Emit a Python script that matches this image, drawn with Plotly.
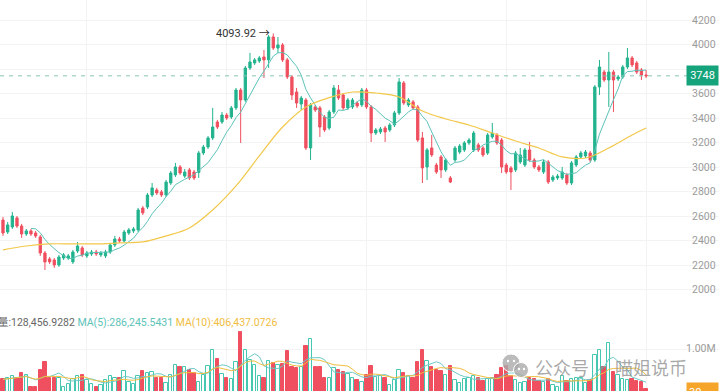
import plotly.graph_objects as go
import pandas as pd

# ---------------- data ----------------
opens = [2571,2473,2514,2588,2522,2457,2482,2465,2433,2302,
         2253,2245,2204,2261,2261,2229,2318,2343,2278,2294,
         2310,2286,2278,2310,2367,2416,2400,2465,2482,2490,
         2669,2677,2775,2816,2800,2775,2873,2939,3004,2930,
         2980,2963,2960,3118,3167,3241,3371,3371,3428,3412,
         3486,3632,3551,3812,3853,3869,3902,3878,4065,3975,
         4000,3878,3739,3616,3518,3551,3159,3494,3486,3412,
         3322,3453,3632,3592,3486,3494,3526,3510,3632,3494,
         3281,3290,3322,3306,3347,3445,3690,3510,3535,3494,
         3241,3004,3159,3020,3086,2980,2914,3061,3126,3143,
         3200,3143,3184,3159,3118,3249,3265,3224,3020,2996,
         2980,3045,3020,3143,3061,3004,2963,3045,2898,2914,
         2914,2939,2873,3020,3086,3094,3118,3061,3657,3779,
         3714,3779,3722,3739,3820,3894,3853,3796,3755]
closes = [2465,2531,2604,2522,2457,2482,2457,2441,2302,2229,
          2229,2204,2269,2286,2278,2310,2359,2286,2302,2310,
          2294,2302,2310,2367,2416,2400,2473,2490,2498,2653,
          2629,2775,2833,2792,2775,2881,2955,3004,2955,2963,
          2914,2914,3118,3167,3241,3330,3330,3428,3404,3486,
          3632,3551,3812,3861,3878,3894,3878,4065,3975,4000,
          3878,3739,3592,3526,3567,3159,3510,3469,3330,3306,
          3453,3649,3567,3486,3551,3551,3502,3632,3494,3281,
          3306,3314,3290,3347,3445,3698,3526,3551,3486,3224,
          2996,3143,3102,2963,2980,3061,2881,3159,3175,3200,
          3224,3281,3143,3102,3265,3281,3200,3004,2963,2963,
          3118,3102,3143,3061,3004,2980,3045,2881,2922,2930,
          2963,2873,3037,3086,3118,3126,3061,3657,3820,3714,
          3779,3714,3739,3820,3894,3837,3779,3755,3748]
highs = [2596,2555,2637,2604,2539,2498,2498,2482,2449,2318,
         2269,2261,2286,2302,2294,2327,2392,2359,2318,2327,
         2327,2318,2327,2384,2441,2433,2490,2506,2514,2669,
         2685,2792,2873,2833,2816,2898,2971,3037,3020,2988,
         2996,2980,3135,3184,3257,3486,3388,3453,3445,3502,
         3649,3649,3828,3935,3894,3910,3959,4081,4093.92,4065,
         4016,3894,3755,3649,3584,3567,3526,3510,3502,3428,
         3469,3673,3673,3608,3567,3567,3543,3649,3649,3510,
         3322,3330,3339,3363,3461,3730,3706,3567,3551,3510,
         3290,3159,3265,3037,3102,3077,2930,3175,3192,3216,
         3241,3298,3200,3175,3281,3363,3281,3241,3037,3012,
         3135,3159,3159,3208,3077,3020,3061,3061,2939,2947,
         3004,2955,3053,3102,3135,3143,3135,3673,3878,3796,
         3943,3796,3755,3837,3975,3910,3869,3812,3796]
lows = [2441,2457,2498,2506,2425,2441,2441,2425,2278,2163,
        2212,2180,2188,2245,2245,2212,2302,2269,2261,2278,
        2278,2269,2261,2294,2351,2384,2384,2449,2465,2473,
        2612,2661,2759,2775,2759,2759,2857,2922,2939,2914,
        2898,2898,2914,3102,3151,3224,3314,3355,3388,3396,
        3469,3200,3535,3796,3837,3853,3730,3812,3959,3935,
        3861,3722,3551,3486,3469,3143,3061,3453,3249,3290,
        3306,3437,3551,3469,3469,3477,3486,3494,3477,3208,
        3265,3273,3208,3290,3330,3428,3510,3494,3469,3208,
        2873,2898,3086,2947,2914,2963,2873,3045,3110,3126,
        3184,3126,3126,3086,3102,3233,3184,2955,2947,2816,
        2963,3028,3004,3045,2988,2963,2947,2865,2881,2898,
        2898,2857,2857,3004,3069,3077,3045,3045,3592,3698,
        3494,3453,3706,3722,3804,3820,3763,3714,3730]
volumes = [340000,360000,410000,380000,490000,430000,180000,170000,540000,720000,
           380000,380000,380000,180000,250000,340000,410000,430000,330000,250000,
           180000,220000,330000,410000,360000,380000,530000,290000,250000,410000,
           530000,490000,510000,380000,380000,270000,430000,650000,620000,600000,
           540000,490000,290000,430000,630000,980000,780000,460000,360000,340000,
           720000,1380000,980000,760000,650000,410000,380000,750000,690000,650000,
           670000,960000,600000,580000,600000,1070000,1210000,600000,600000,360000,
           380000,580000,540000,510000,460000,380000,330000,
           290000,430000,630000,400000,410000,360000,220000,330000,540000,490000,
           410000,380000,720000,990000,750000,620000,540000,530000,430000,630000,
           330000,270000,340000,360000,410000,380000,310000,340000,360000,430000,
           580000,630000,410000,330000,270000,290000,380000,340000,310000,290000,
           340000,220000,180000,410000,310000,340000,360000,380000,270000,330000,
           870000,980000,600000,1140000,510000,430000,340000,330000,340000,310000,
           290000,128457]
# long moving average (yellow line) read at every 5th candle
ma_long_idx = [0,5,10,15,20,25,30,35,40,45,50,55,60,65,70,75,80,85,90,95,
               100,105,110,115,120,125,130,135,138]
ma_long_vals = [2327,2359,2376,2376,2376,2384,2392,2441,2506,2653,2849,3094,3330,3494,
                3570,3616,3608,3575,3461,3396,3347,3281,3216,3159,3086,3077,3159,3265,3322]
price_ticks = [2000,2200,2400,2600,2800,3000,3200,3400,3600,3800,4000,4200]
last_price = 3748
peak_price = 4093.92
peak_index = 58
vol_text = "量:128,456.9282"
vma5_text = "MA(5):286,245.5431"
vma10_text = "MA(10):406,437.0726"

# ---------------- styling ----------------
W, H = 719, 391
GREEN = '#22b38e'
RED = '#ef4f5e'
TEAL_MA = '#5cc3b9'
YELLOW_MA = '#f2c84b'
GRID = '#f3f3f3'
FONT = 'Roboto, Noto Sans CJK SC, sans-serif'

idx = list(range(len(closes)))
up = [c >= o for o, c in zip(opens, closes)]

split = 91 / H
spacing = 4.66
x_first_px = 3
x0 = -x_first_px / spacing
x1 = (W - x_first_px) / spacing

fig = go.Figure()
fig.add_trace(go.Candlestick(
    x=idx, open=opens, high=highs, low=lows, close=closes,
    increasing=dict(line=dict(color=GREEN, width=1), fillcolor=GREEN),
    decreasing=dict(line=dict(color=RED, width=1), fillcolor=RED),
    whiskerwidth=0, hoverinfo='skip', showlegend=False, xaxis='x', yaxis='y'))

ma7 = pd.Series(closes).rolling(7).mean()
fig.add_trace(go.Scatter(x=idx, y=ma7, mode='lines', line=dict(color=TEAL_MA, width=1),
                         hoverinfo='skip', showlegend=False, xaxis='x', yaxis='y'))
fig.add_trace(go.Scatter(x=ma_long_idx, y=ma_long_vals, mode='lines',
                         line=dict(color=YELLOW_MA, width=1.2, shape='spline'),
                         hoverinfo='skip', showlegend=False, xaxis='x', yaxis='y'))

fig.add_trace(go.Bar(
    x=idx, y=volumes, width=0.72,
    marker=dict(color=['rgba(255,255,255,0)' if u else RED for u in up],
                line=dict(color=['#45c7b2' if u else RED for u in up], width=1)),
    hoverinfo='skip', showlegend=False, xaxis='x2', yaxis='y2'))
vma5 = pd.Series(volumes).rolling(5, min_periods=1).mean()
vma10 = pd.Series(volumes).rolling(10, min_periods=1).mean()
fig.add_trace(go.Scatter(x=idx, y=vma5, mode='lines', line=dict(color='#6cc9c6', width=1),
                         hoverinfo='skip', showlegend=False, xaxis='x2', yaxis='y2'))
fig.add_trace(go.Scatter(x=idx, y=vma10, mode='lines', line=dict(color='#f0bd3e', width=1),
                         hoverinfo='skip', showlegend=False, xaxis='x2', yaxis='y2'))

vgrid = [18, 48, 78, 108, 138]
fig.update_layout(
    width=W, height=H, margin=dict(l=0, r=0, t=0, b=0, autoexpand=False),
    paper_bgcolor='white', plot_bgcolor='white', showlegend=False,
    font=dict(family=FONT),
    xaxis=dict(domain=[0, 1], range=[x0, x1], anchor='y', showticklabels=False,
               tickvals=vgrid, showgrid=True, gridcolor=GRID, zeroline=False,
               showline=False, ticks='', rangeslider=dict(visible=False)),
    yaxis=dict(domain=[split, 1], range=[1918, 4367], side='right', anchor='x',
               tickvals=price_ticks, showticklabels=False, ticks='',
               showgrid=True, gridcolor=GRID, zeroline=False, showline=False),
    xaxis2=dict(domain=[0, 1], matches='x', anchor='y2', showticklabels=False,
                tickvals=vgrid, showgrid=True, gridcolor=GRID, zeroline=False,
                showline=False, ticks=''),
    yaxis2=dict(domain=[0, split], range=[87000, 2070000], side='right', anchor='x2',
                tickvals=[1000000], showticklabels=False, showgrid=True, gridcolor=GRID,
                zeroline=False, showline=False, ticks=''),
    bargap=0,
)

# price scale labels (right side, inside the plot); 3800 sits under the price tag
for p in price_ticks:
    if abs(p - last_price) < 80:
        continue
    fig.add_annotation(xref='paper', x=1, xanchor='right', xshift=-1, yref='y', y=p,
                       yanchor='middle', text=str(p), showarrow=False,
                       font=dict(color='#9b9b9b', size=10.5, family=FONT))

# current price dashed line and label
fig.add_shape(type='line', xref='paper', x0=0, x1=688 / W, yref='y', y0=last_price, y1=last_price,
              line=dict(color='#86c5b6', width=1, dash='4px,5px'))
fig.add_annotation(xref='paper', x=1, xanchor='right', yref='y', y=last_price, yanchor='middle',
                   text=str(last_price), showarrow=False, bgcolor='#14a37a',
                   font=dict(color='white', size=11, family=FONT), width=27, height=15, borderpad=2)

# peak marker
fig.add_annotation(xref='x', x=peak_index, yref='y', y=peak_price, xanchor='right', yanchor='middle',
                   xshift=-1, text=f"{peak_price:.2f} →", showarrow=False,
                   font=dict(color='#333333', size=11, family=FONT))

# volume axis label
fig.add_annotation(xref='paper', x=1, xanchor='right', xshift=-1, yref='y2', y=1000000,
                   yanchor='middle', yshift=1, text='1.00M', showarrow=False,
                   font=dict(color='#9b9b9b', size=10.5, family=FONT))

# volume legend
fig.add_annotation(xref='paper', x=-4 / W, xanchor='left', yref='paper', y=(H - 322) / H,
                   yanchor='middle', showarrow=False, align='left',
                   text=(f'<span style="color:#666666">{vol_text}</span> '
                         f'<span style="color:#5cc3b9">{vma5_text}</span> '
                         f'<span style="color:#f0bd3e">{vma10_text}</span>'),
                   font=dict(size=10.5, family=FONT))

# bottom-right orange label (cut by the edge, as in the source)
fig.add_annotation(xref='paper', x=1, xanchor='right', yref='paper', y=(H - 382) / H, yanchor='top',
                   text='30', showarrow=False, bgcolor='#f4a52a', align='left',
                   font=dict(color='white', size=11, family=FONT), width=27, height=15, borderpad=2)

# watermark
def px_circle(cx, cy, r, color):
    fig.add_shape(type='circle', xref='paper', yref='paper',
                  x0=(cx - r) / W, x1=(cx + r) / W, y0=(H - cy - r) / H, y1=(H - cy + r) / H,
                  fillcolor=color, line=dict(color='white', width=1), layer='above')

px_circle(511, 363, 9, 'rgba(170,170,170,0.8)')
px_circle(521, 370, 7.5, 'rgba(170,170,170,0.8)')
for cx, cy in [(508, 361), (514, 361), (519, 369), (524, 369)]:
    fig.add_shape(type='circle', xref='paper', yref='paper',
                  x0=(cx - 1.2) / W, x1=(cx + 1.2) / W, y0=(H - cy - 1.2) / H, y1=(H - cy + 1.2) / H,
                  fillcolor='white', line=dict(width=0), layer='above')
fig.add_annotation(xref='paper', x=533 / W, xanchor='left', yref='paper', y=(H - 367) / H,
                   yanchor='middle', text='公众号 · 喵姐说币', showarrow=False,
                   font=dict(size=18, color='rgba(140,140,140,0.75)', family='Noto Sans CJK SC'))

fig.write_html("out.html", config={'displayModeBar': False},
               post_script="document.body.style.margin='0';document.body.style.overflow='hidden';")
